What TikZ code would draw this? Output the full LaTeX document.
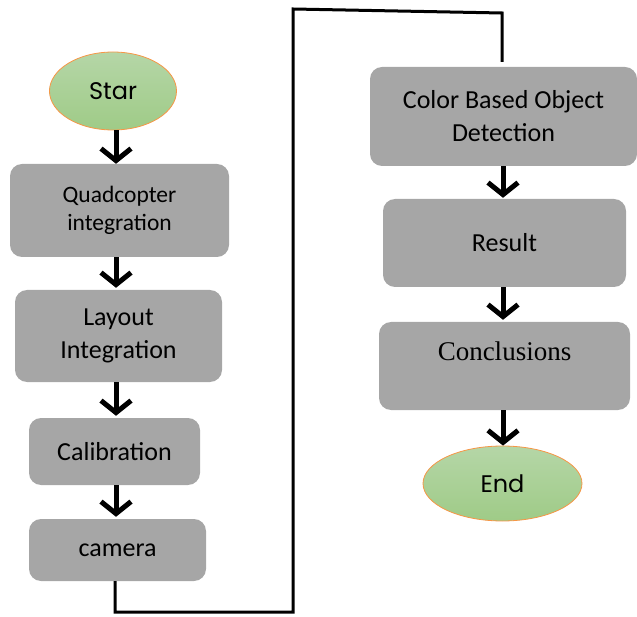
\documentclass[tikz,border=0pt]{standalone}
\usepackage{fontspec}
\setmainfont{Carlito}
\newfontfamily\gothic{Poppins}
\newfontfamily\timesf{Liberation Serif}
\usepackage{tikz}
\usetikzlibrary{calc,shapes,arrows.meta}

\definecolor{boxgray}{HTML}{A6A6A6}
\definecolor{termtop}{HTML}{B5D6A7}
\definecolor{termbot}{HTML}{9FCB87}
\definecolor{termedge}{HTML}{F79646}

\tikzset{
    procbox/.style={fill=boxgray, rounded corners=12pt, inner sep=0pt,
        align=center, font=\fontsize{26}{33}\selectfont},
    termin/.style={ellipse, draw=termedge, line width=0.8pt, top color=termtop,
        bottom color=termbot, inner sep=0pt, font=\gothic\fontsize{24}{30}\selectfont},
    flow/.style={line width=5pt, -{Straight Barb[length=12pt,width=30pt]}},
    link/.style={line width=3pt}
}

\begin{document}
\begin{tikzpicture}[x=1pt,y=-1pt]
        \useasboundingbox (0,0) rectangle (637,617);
        % left column
        \node[termin, minimum width=127, minimum height=78] (star) at (113,91) {Star};
        \node[procbox, minimum width=219, minimum height=93,
            font=\fontsize{23.5}{28}\selectfont] (quad) at (119.5,210.5) {Quadcopter\\integration};
        \node[procbox, minimum width=207, minimum height=92] (layout) at (118.5,336) {Layout\\Integration};
        \node[procbox, minimum width=171, minimum height=67] (calib) at (114.5,451.5) {Calibration};
        \node[procbox, minimum width=177, minimum height=62] (camera) at (117.5,550) {camera};
        % right column
        \node[procbox, minimum width=267, minimum height=99] (color) at (503.5,116.5) {Color Based Object\\Detection};
        \node[procbox, minimum width=243, minimum height=88] (result) at (504.5,243) {Result};
        \node[procbox, minimum width=251, minimum height=88] (concl) at (504.5,366) {};
        \node[font=\timesf\fontsize{27}{30}\selectfont, anchor=base] (concltext) at (504.5,361) {Conclusions};
        \node[termin, minimum width=159, minimum height=75] (end) at (502.5,483.5) {End};
        % arrows
        \coordinate (lx) at (116,0);
        \coordinate (rx) at (503,0);
        \draw[flow] (lx |- star.south) -- (lx |- quad.north);
        \draw[flow] (lx |- quad.south) -- ([yshift=2pt]lx |- layout.north);
        \draw[flow] (lx |- layout.south) -- ([yshift=2pt]lx |- calib.north);
        \draw[flow] (lx |- calib.south) -- ([yshift=2pt]lx |- camera.north);
        \draw[flow] (rx |- color.south) -- ([yshift=1pt]rx |- result.north);
        \draw[flow] (rx |- result.south) -- ([yshift=2pt]rx |- concl.north);
        \draw[flow] (rx |- concl.south) -- (rx |- end.north);
        % loop over to the right column
        \coordinate (turn) at (293,9);
        \coordinate (drop) at (502,13);
        \draw[link] (camera.south -| 115,0) |- (293,612) -- (turn) -- (drop) -- ([yshift=5pt]drop |- color.north);
    \end{tikzpicture}
\end{document}
